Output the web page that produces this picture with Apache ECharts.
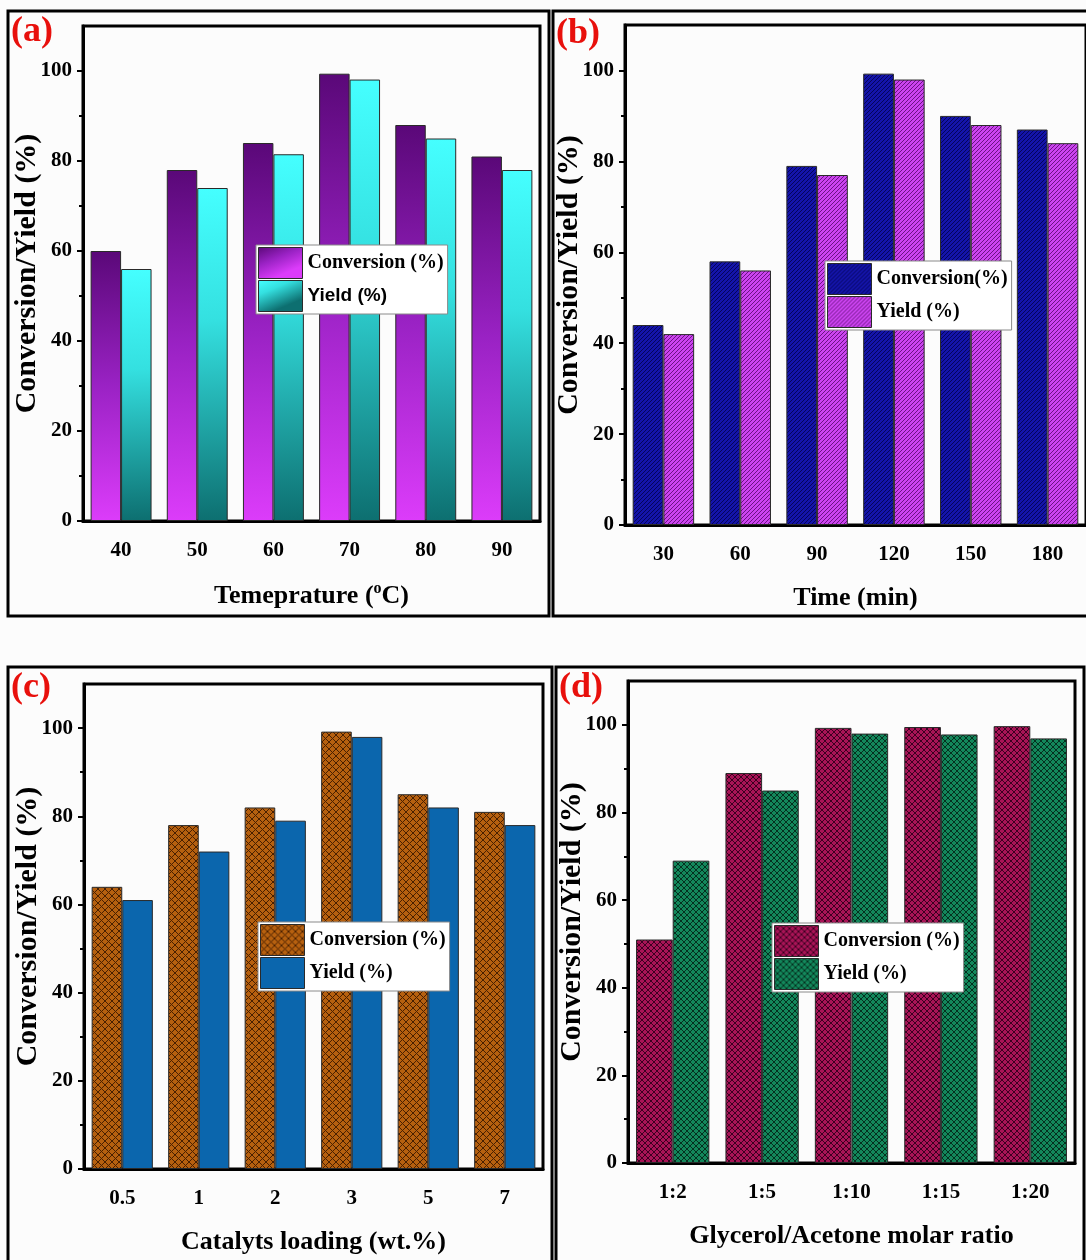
<!DOCTYPE html>
<html>
<head>
<meta charset="utf-8">
<script src="https://cdn.jsdelivr.net/npm/echarts@6/dist/echarts.min.js"></script>
<style>
  html, body { margin: 0; padding: 0; background: #fff; }
  #main { width: 1086px; height: 1260px; }
</style>
</head>
<body>
<div id="main"></div>
<script>
// (a) temperature
const tempCats = ['40', '50', '60', '70', '80', '90'];
const tempConversion = [60, 78, 84, 99.4, 88, 81];
const tempYield = [56, 74, 81.5, 98.1, 85, 78];

// (b) time
const timeCats = ['30', '60', '90', '120', '150', '180'];
const timeConversion = [44, 58, 79, 99.3, 90, 87];
const timeYield = [42, 56, 77, 98, 88, 84];

// (c) catalyst loading
const loadCats = ['0.5', '1', '2', '3', '5', '7'];
const loadConversion = [64, 78, 82, 99.2, 85, 81];
const loadYield = [61, 72, 79, 98, 82, 78];

// (d) glycerol/acetone ratio
const ratioCats = ['1:2', '1:5', '1:10', '1:15', '1:20'];
const ratioConversion = [51, 89, 99.3, 99.5, 99.7];
const ratioYield = [69, 85, 98, 97.8, 96.9];

const yMajorTicks = [0, 20, 40, 60, 80, 100];
const yMinorTicks = [10, 30, 50, 70, 90];

const SERIF = 'Liberation Serif';

function hatch(bg, fg, step, cross) {
  const c = document.createElement('canvas');
  c.width = step;
  c.height = step;
  const g = c.getContext('2d');
  g.fillStyle = bg;
  g.fillRect(0, 0, step, step);
  g.strokeStyle = fg;
  g.lineWidth = 1;
  g.beginPath();
  g.moveTo(-1, step + 1); g.lineTo(step + 1, -1);
  g.moveTo(-1, 1); g.lineTo(1, -1);
  g.moveTo(step - 1, step + 1); g.lineTo(step + 1, step - 1);
  if (cross) {
    g.moveTo(-1, -1); g.lineTo(step + 1, step + 1);
    g.moveTo(step - 1, -1); g.lineTo(step + 1, 1);
    g.moveTo(-1, step - 1); g.lineTo(1, step + 1);
  }
  g.stroke();
  return { image: c, repeat: 'repeat' };
}

const fills = {
  aConv: {
    type: 'linear', x: 0, y: 0, x2: 0.3, y2: 1,
    colorStops: [
      { offset: 0, color: '#5a0878' },
      { offset: 0.5, color: '#9a22c4' },
      { offset: 1, color: '#dc3cfa' }
    ]
  },
  aYield: {
    type: 'linear', x: 0, y: 0, x2: 0.3, y2: 1,
    colorStops: [
      { offset: 0, color: '#45ffff' },
      { offset: 0.4, color: '#34e0e0' },
      { offset: 1, color: '#0d6f70' }
    ]
  },
  bConv: hatch('#1414aa', '#04045a', 4, false),
  bYield: hatch('#cc44f0', '#6c1284', 4, false),
  cConv: hatch('#b6600f', '#4a2000', 7, true),
  cYield: '#0b66ad',
  dConv: hatch('#a81456', '#3a0020', 6, true),
  dYield: hatch('#13875b', '#05301f', 6, true)
};

const legendText = {
  aConv: 'Conversion (%)',
  aYield: '{sans|Yield (%)}',
  bConv: 'Conversion(%)',
  bYield: 'Yield (%)',
  cConv: 'Conversion (%)',
  cYield: 'Yield (%)',
  dConv: 'Conversion (%)',
  dYield: 'Yield (%)'
};

const grids = [
  { left: 83, top: 26, width: 457, height: 495 },
  { left: 625, top: 25, width: 463, height: 500 },
  { left: 84, top: 684, width: 459, height: 485 },
  { left: 628, top: 681, width: 447, height: 482 }
];

const panels = [
  { cats: tempCats, conv: tempConversion, yld: tempYield, key: 'a',
    xName: 'Temeprature ({sup|o}C)', gap: '20%' },
  { cats: timeCats, conv: timeConversion, yld: timeYield, key: 'b',
    xName: 'Time (min)', gap: '20%' },
  { cats: loadCats, conv: loadConversion, yld: loadYield, key: 'c',
    xName: 'Catalyts loading (wt.%)', gap: '20%' },
  { cats: ratioCats, conv: ratioConversion, yld: ratioYield, key: 'd',
    xName: 'Glycerol/Acetone molar ratio', gap: '18%' }
];

const legendBoxes = [
  { left: 256, top: 245 },
  { left: 825, top: 261 },
  { left: 258, top: 922 },
  { left: 772, top: 923 }
];

const xAxes = [];
const yAxes = [];
const series = [];
const legends = [];

panels.forEach((p, i) => {
  xAxes.push({
    type: 'category',
    gridIndex: i,
    position: 'bottom',
    data: p.cats,
    name: p.xName,
    nameLocation: 'middle',
    nameGap: 60,
    nameMoveOverlap: false,
    nameTextStyle: {
      fontFamily: SERIF, fontWeight: 'bold', fontSize: 26, color: '#000',
      rich: { sup: { fontFamily: SERIF, fontWeight: 'bold', fontSize: 16, padding: [0, 0, 14, 0], color: '#000' } }
    },
    axisLine: { lineStyle: { color: '#000', width: 3 } },
    axisTick: { alignWithLabel: true, length: 6, lineStyle: { color: '#000', width: 2 } },
    axisLabel: { fontFamily: SERIF, fontWeight: 'bold', fontSize: 21, color: '#000', margin: 19 },
    splitLine: { show: false }
  });
  xAxes.push({
    type: 'category',
    gridIndex: i,
    position: 'bottom',
    data: p.cats,
    axisLine: { show: false },
    axisTick: { length: 4, lineStyle: { color: '#000', width: 2 } },
    axisLabel: { show: false },
    splitLine: { show: false }
  });
  yAxes.push({
    type: 'value',
    gridIndex: i,
    position: 'left',
    min: 0,
    max: 110,
    interval: 10,
    name: 'Conversion/Yield (%)',
    nameLocation: 'middle',
    nameGap: 41,
    nameMoveOverlap: false,
    nameTextStyle: { fontFamily: SERIF, fontWeight: 'bold', fontSize: 30, color: '#000' },
    axisLine: { show: true, lineStyle: { color: '#000', width: 3 } },
    axisTick: { show: true, length: 6, customValues: yMajorTicks, lineStyle: { color: '#000', width: 2 } },
    minorTick: { show: false },
    axisLabel: { customValues: yMajorTicks, fontFamily: SERIF, fontWeight: 'bold', fontSize: 21, color: '#000', margin: 11 },
    splitLine: { show: false }
  });
  yAxes.push({
    type: 'value',
    gridIndex: i,
    position: 'left',
    offset: 0,
    min: 0,
    max: 110,
    interval: 10,
    axisLine: { show: false },
    axisTick: { show: true, length: 4, customValues: yMinorTicks, lineStyle: { color: '#000', width: 2 } },
    axisLabel: { show: false },
    splitLine: { show: false }
  });

  const convName = p.key + 'Conv';
  const yldName = p.key + 'Yield';
  const barStyle = (name) => ({ color: fills[name], borderColor: '#2a2a2a', borderWidth: 1 });
  series.push({
    name: convName,
    type: 'bar',
    xAxisIndex: i * 2,
    yAxisIndex: i * 2,
    data: p.conv,
    barGap: '0%',
    barCategoryGap: p.gap,
    itemStyle: barStyle(convName)
  });
  series.push({
    name: yldName,
    type: 'bar',
    xAxisIndex: i * 2,
    yAxisIndex: i * 2,
    data: p.yld,
    barGap: '0%',
    barCategoryGap: p.gap,
    itemStyle: barStyle(yldName)
  });

  legends.push({
    data: [convName, yldName],
    left: legendBoxes[i].left,
    top: legendBoxes[i].top,
    orient: 'vertical',
    icon: 'rect',
    itemWidth: 44,
    itemHeight: 31,
    itemGap: 1,
    itemStyle: { borderColor: '#2a2a2a', borderWidth: 1 },
    padding: [2, 4, 2, 2],
    backgroundColor: '#ffffff',
    borderColor: '#8a8a8a',
    borderWidth: 1,
    selectedMode: false,
    formatter: (name) => legendText[name],
    textStyle: {
      fontFamily: SERIF, fontWeight: 'bold', fontSize: 20, color: '#000',
      rich: { sans: { fontFamily: 'Liberation Sans', fontWeight: 'bold', fontSize: 19, color: '#000' } }
    }
  });
});

const frames = [
  [8, 11, 541, 605],
  [553, 11, 540, 605],
  [8, 667, 544, 610],
  [556, 667, 528, 610]
];
const panelTags = [
  ['(a)', 11, 14],
  ['(b)', 556, 16],
  ['(c)', 11, 670],
  ['(d)', 559, 670]
];

const graphic = [];
frames.forEach((f) => {
  graphic.push({
    type: 'rect',
    shape: { x: f[0], y: f[1], width: f[2], height: f[3] },
    style: { fill: null, stroke: '#000', lineWidth: 3 },
    silent: true,
    z: 100
  });
});
panelTags.forEach((t) => {
  graphic.push({
    type: 'text',
    x: t[1],
    y: t[2],
    style: { text: t[0], fill: '#e8100c', font: 'bold 36px "Liberation Serif"' },
    z: 100
  });
});

const chart = echarts.init(document.getElementById('main'));
chart.setOption({
  animation: false,
  backgroundColor: '#fcfcfc',
  grid: grids.map((g) => Object.assign({
    show: true,
    backgroundColor: 'transparent',
    borderColor: '#000',
    borderWidth: 3,
    containLabel: false
  }, g)),
  xAxis: xAxes,
  yAxis: yAxes,
  legend: legends,
  series: series,
  graphic: graphic
});
</script>
</body>
</html>
